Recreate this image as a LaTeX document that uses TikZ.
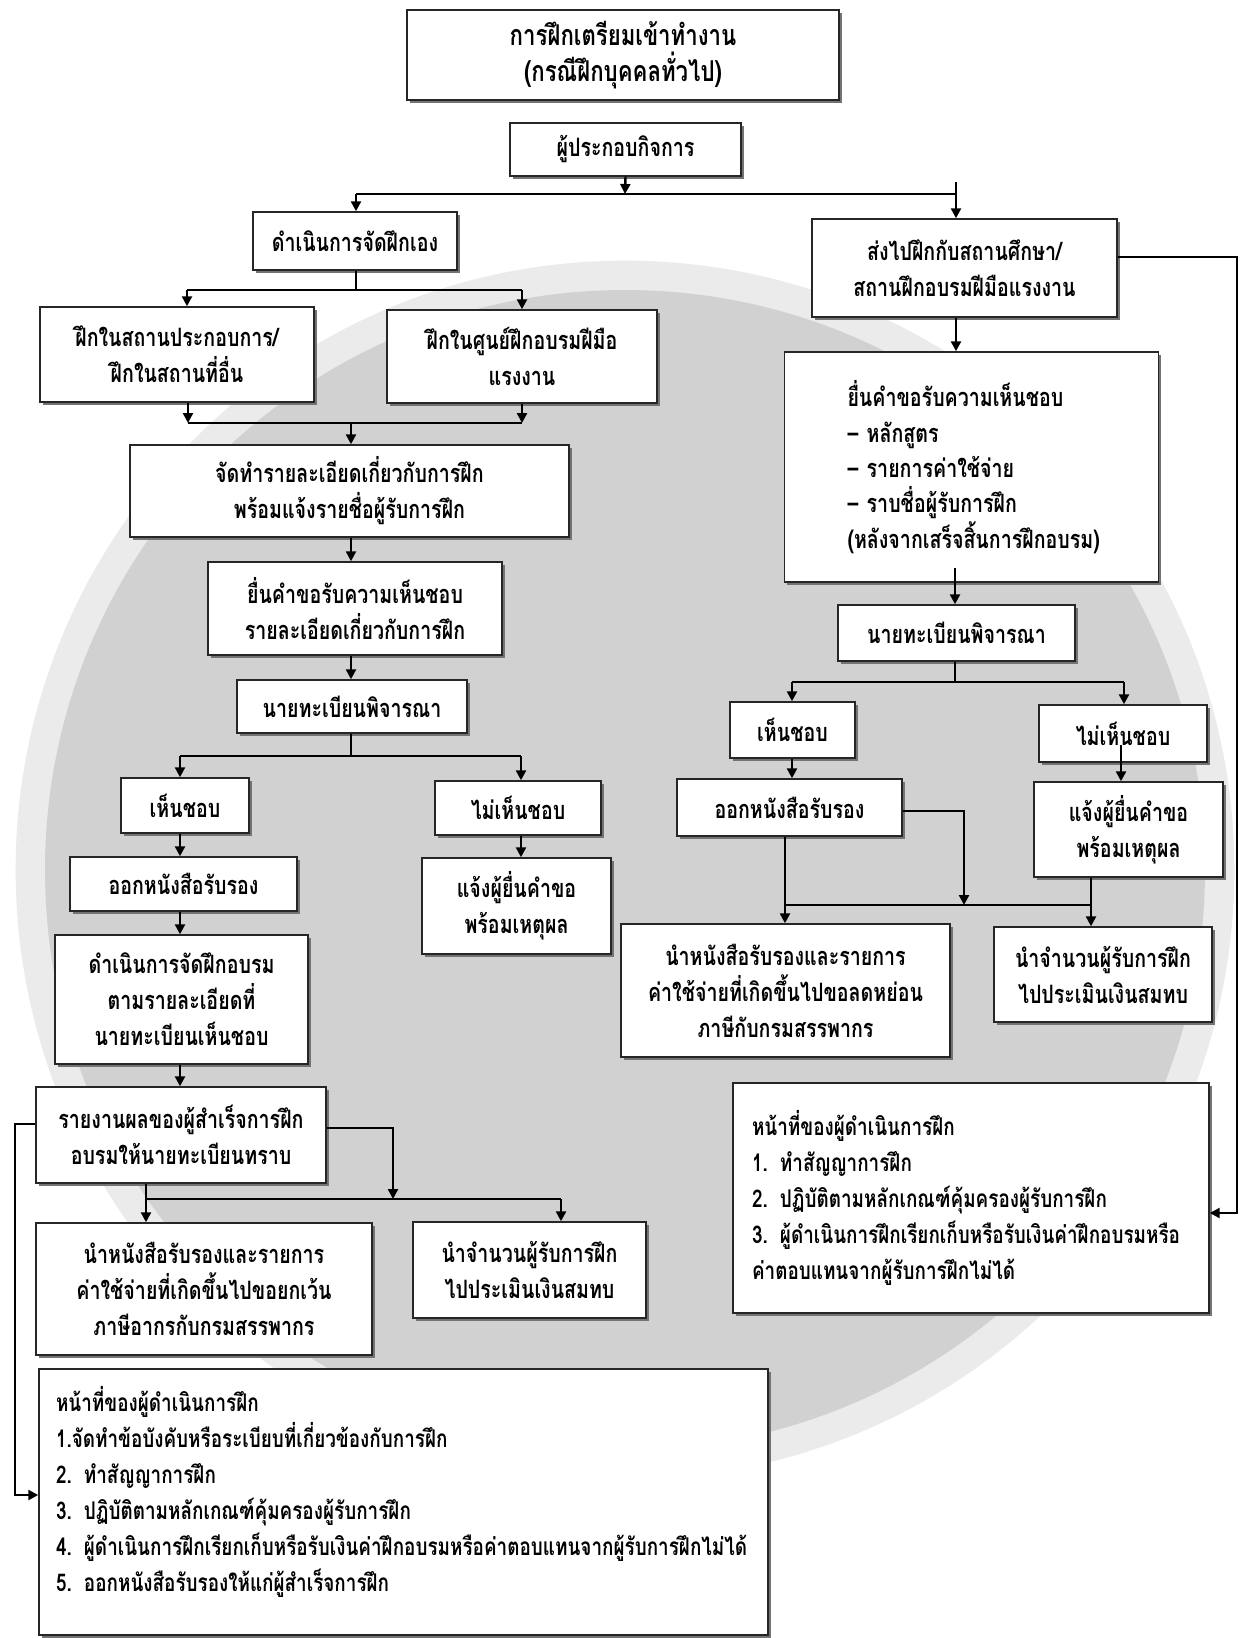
\documentclass[tikz,border=0pt]{standalone}
\usepackage{fontspec}
\setmainfont[Script=Thai, FakeStretch=0.774]{Loma}
\usetikzlibrary{arrows.meta,shadows}
\newcommand\boxfont{\fontsize{19pt}{27pt}\selectfont\bfseries}
\newcommand\titlefont{\fontsize{21.5pt}{27pt}\selectfont\bfseries}
\newcommand\listfont{\fontsize{18.3pt}{27pt}\selectfont\bfseries\spaceskip 4pt plus 1pt\relax}
\newcommand\rlistfont{\fontsize{19pt}{26.5pt}\selectfont\bfseries\spaceskip 4pt plus 1pt\relax}
\begin{document}
\begin{tikzpicture}[x=0.75pt,y=-0.75pt,
  box/.style={draw=black!85, line width=1.1pt, fill=white, align=center, inner sep=2pt,
    font=\boxfont,
    drop shadow={shadow xshift=2pt, shadow yshift=-2.5pt, fill=black!55, opacity=1}},
  listbox/.style={box, align=left, inner ysep=0pt, font=\listfont},
  sz/.style 2 args={minimum width=#1*0.75pt, minimum height=#2*0.75pt},
  con/.style={line width=1.8pt, draw=black},
  arr/.style={con, -{Triangle[length=7.5pt,width=7.5pt]}},
]
\useasboundingbox (0,0) rectangle (1239,1638);
\fill[white] (0,0) rectangle (1239,1638);
\fill[black!8] (625,870) circle[radius=457pt];
\fill[black!18] (625,870) circle[radius=435pt];

% left / center column
\node[box, sz={432}{90}, font=\titlefont] (n1) at (623,55) {การฝึกเตรียมเข้าทำงาน\\(กรณีฝึกบุคคลทั่วไป)};
\node[box, sz={231}{53}] (n2) at (625.5,149.5) {ผู้ประกอบกิจการ};
\node[box, sz={204}{58}] (n3) at (355,241) {ดำเนินการจัดฝึกเอง};
\node[box, sz={305}{98}] (n4) at (964.5,268) {ส่งไปฝึกกับสถานศึกษา/\\สถานฝึกอบรมฝีมือแรงงาน};
\node[box, sz={274}{95}] (n5) at (177,354.5) {ฝึกในสถานประกอบการ/\\ฝึกในสถานที่อื่น};
\node[box, sz={270}{93}] (n6) at (522,356.5) {ฝึกในศูนย์ฝึกอบรมฝีมือ\\แรงงาน};
\node[box, sz={439}{92}] (n7) at (349.5,491) {จัดทำรายละเอียดเกี่ยวกับการฝึก\\พร้อมแจ้งรายชื่อผู้รับการฝึก};
\node[box, sz={294}{93}] (n8) at (355,608.5) {ยื่นคำขอรับความเห็นชอบ\\รายละเอียดเกี่ยวกับการฝึก};
\node[box, sz={230}{53}] (n9) at (352,706.5) {นายทะเบียนพิจารณา};
\node[box, sz={128}{55}] (n10) at (185,805.5) {เห็นชอบ};
\node[box, sz={166}{54}] (n11) at (518,808) {ไม่เห็นชอบ};
\node[box, sz={227}{54}] (n12) at (183.5,884) {ออกหนังสือรับรอง};
\node[box, sz={189}{96}] (n13) at (516.5,906) {แจ้งผู้ยื่นคำขอ\\พร้อมเหตุผล};
\node[box, sz={253}{129}] (n14) at (181.5,999.5) {ดำเนินการจัดฝึกอบรม\\ตามรายละเอียดที่\\นายทะเบียนเห็นชอบ};
\node[box, sz={290}{96}] (n15) at (181,1135) {รายงานผลของผู้สำเร็จการฝึก\\อบรมให้นายทะเบียนทราบ};
\node[box, sz={336}{132}] (n16) at (204,1289) {นำหนังสือรับรองและรายการ\\ค่าใช้จ่ายที่เกิดขึ้นไปขอยกเว้น\\ภาษีอากรกับกรมสรรพากร};
\node[box, sz={233}{96}] (n17) at (529.5,1270) {นำจำนวนผู้รับการฝึก\\ไปประเมินเงินสมทบ};
\node[listbox, sz={729}{266}, inner xsep=17*0.75pt, text width=695*0.75pt] (n18) at (403.5,1502)
  {หน้าที่ของผู้ดำเนินการฝึก\\1.จัดทำข้อบังคับหรือระเบียบที่เกี่ยวข้องกับการฝึก\\2. ทำสัญญาการฝึก\\3. ปฏิบัติตามหลักเกณฑ์คุ้มครองผู้รับการฝึก\\4. ผู้ดำเนินการฝึกเรียกเก็บหรือรับเงินค่าฝึกอบรมหรือค่าตอบแทนจากผู้รับการฝึกไม่ได้\\5. ออกหนังสือรับรองให้แก่ผู้สำเร็จการฝึก\\[-7pt]\mbox{}};

% right column
\node[listbox, sz={373}{230}, inner xsep=63*0.75pt, text width=248*0.75pt, font=\rlistfont] (n19) at (971.5,467)
  {ยื่นคำขอรับความเห็นชอบ\\– หลักสูตร\\– รายการค่าใช้จ่าย\\– ราบชื่อผู้รับการฝึก\\(หลังจากเสร็จสิ้นการฝึกอบรม)};
\node[box, sz={237}{56}] (n20) at (956.5,633) {นายทะเบียนพิจารณา};
\node[box, sz={125}{56}] (n21) at (792.5,730) {เห็นชอบ};
\node[box, sz={168}{57}] (n22) at (1123,733.5) {ไม่เห็นชอบ};
\node[box, sz={225}{57}] (n23) at (789.5,807.5) {ออกหนังสือรับรอง};
\node[box, sz={189}{95}] (n24) at (1128.5,829.5) {แจ้งผู้ยื่นคำขอ\\พร้อมเหตุผล};
\node[box, sz={329}{133}] (n25) at (785.5,990.5) {นำหนังสือรับรองและรายการ\\ค่าใช้จ่ายที่เกิดขึ้นไปขอลดหย่อน\\ภาษีกับกรมสรรพากร};
\node[box, sz={218}{95}] (n26) at (1103,974.5) {นำจำนวนผู้รับการฝึก\\ไปประเมินเงินสมทบ};
\node[listbox, sz={476}{230}, inner xsep=19*0.75pt, text width=438*0.75pt] (n27) at (971,1198)
  {หน้าที่ของผู้ดำเนินการฝึก\\1. ทำสัญญาการฝึก\\2. ปฏิบัติตามหลักเกณฑ์คุ้มครองผู้รับการฝึก\\3. ผู้ดำเนินการฝึกเรียกเก็บหรือรับเงินค่าฝึกอบรมหรือ\\ค่าตอบแทนจากผู้รับการฝึกไม่ได้};

% junction coordinates
\coordinate (j1) at (625,194);
\coordinate (jl) at (356,194);
\coordinate (jr) at (956,194);
\coordinate (jrt) at (956,182);
\coordinate (e1) at (1237,257);
\coordinate (e2) at (1237,1213);
\coordinate (k1) at (356,290);
\coordinate (k1l) at (187,290);
\coordinate (k1r) at (522,290);
\coordinate (m0) at (351,423);
\coordinate (m1) at (188,423);
\coordinate (m2) at (522,423);
\coordinate (p0) at (351,756);
\coordinate (p1) at (180,756);
\coordinate (p2) at (521,756);
\coordinate (s1) at (146,1199);
\coordinate (s2) at (561,1199);
\coordinate (t1) at (393,1128);
\coordinate (u1) at (15,1124);
\coordinate (u2) at (15,1495);
\coordinate (w0) at (955,568);
\coordinate (x0) at (955,682);
\coordinate (x1) at (792,682);
\coordinate (x2) at (1124,682);
\coordinate (y0) at (1121,745);
\coordinate (z1) at (785,905);
\coordinate (z2) at (1091,905);
\coordinate (z3) at (964,811);

% connectors: top
\draw[arr] (n2.south) -- (j1);
\draw[con] (jl) -- (jr);
\draw[arr] (jl) -- (jl |- n3.north);
\draw[arr] (jrt) -- (jr |- n4.north);
\draw[arr] (n4.east |- e1) -- (e1) -- (e2) -- (n27.east |- e2);

% left branch
\draw[con] (k1 |- n3.south) -- (k1);
\draw[con] (k1l) -- (k1r);
\draw[arr] (k1l) -- (k1l |- n5.north);
\draw[arr] (k1r) -- (k1r |- n6.north);
\draw[arr] (m1 |- n5.south) -- (m1);
\draw[arr] (m2 |- n6.south) -- (m2);
\draw[con] (m1) -- (m2);
\draw[arr] (m0) -- (m0 |- n7.north);
\draw[arr] (m0 |- n7.south) -- (m0 |- n8.north);
\draw[arr] (m0 |- n8.south) -- (m0 |- n9.north);
\draw[con] (p0 |- n9.south) -- (p0);
\draw[con] (p1) -- (p2);
\draw[arr] (p1) -- (p1 |- n10.north);
\draw[arr] (p2) -- (p2 |- n11.north);
\draw[arr] (p1 |- n10.south) -- (p1 |- n12.north);
\draw[arr] (p2 |- n11.south) -- (p2 |- n13.north);
\draw[arr] (p1 |- n12.south) -- (p1 |- n14.north);
\draw[arr] (p1 |- n14.south) -- (p1 |- n15.north);
\draw[arr] (s1 |- n15.south) -- (s1 |- n16.north);
\draw[con] (s1) -- (s2);
\draw[arr] (s2) -- (s2 |- n17.north);
\draw[arr] (n15.east |- t1) -- (t1) -- (t1 |- s1);
\draw[arr] (n15.west |- u1) -- (u1) -- (u2) -- (n18.west |- u2);

% right branch
\draw[arr] (jr |- n4.south) -- (jr |- n19.north);
\draw[arr] (w0) -- (w0 |- n20.north);
\draw[con] (x0 |- n20.south) -- (x0);
\draw[con] (x1) -- (x2);
\draw[arr] (x1) -- (x1 |- n21.north);
\draw[arr] (x2) -- (x2 |- n22.north);
\draw[arr] (x1 |- n21.south) -- (x1 |- n23.north);
\draw[arr] (y0) -- (y0 |- n24.north);
\draw[arr] (z1 |- n23.south) -- (z1 |- n25.north);
\draw[con] (z1) -- (z2);
\draw[arr] (z2 |- n24.south) -- (z2 |- n26.north);
\draw[arr] (n23.east |- z3) -- (z3) -- (z3 |- z1);
\end{tikzpicture}
\end{document}
